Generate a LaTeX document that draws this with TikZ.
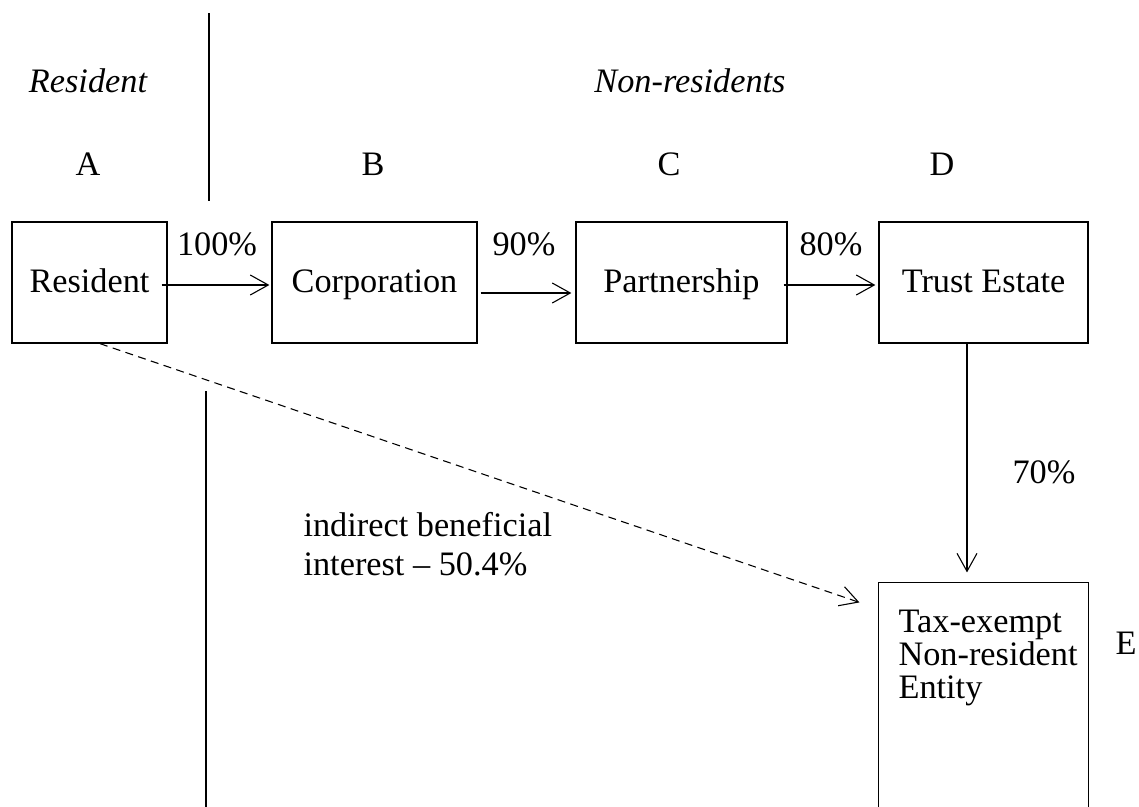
\documentclass[tikz,border=0pt]{standalone}
\usepackage{fontspec}
\setmainfont{Liberation Serif}
\usetikzlibrary{arrows.meta}
\begin{document}
\begin{tikzpicture}[x=0.35pt,y=-0.35pt,
  txt/.style={font=\fontsize{12}{13.7}\selectfont},
  box/.style={draw, line width=0.45pt, inner sep=0pt, txt, text height=9pt, text depth=1.8pt},
  lbl/.style={inner sep=0pt, txt},
  arr/.style={line width=0.38pt, -{Straight Barb[length=6.3pt,width=7pt,line width=0.38pt]}},
  sep/.style={line width=0.45pt},
  dsh/.style={arr, dash pattern=on 2.8pt off 1.9pt}]
\useasboundingbox (0,0) rectangle (1139,807);
% headers
\node[lbl, font=\fontsize{12}{13.7}\selectfont\itshape, anchor=base] (hres) at (88,93) {Resident};
\node[lbl, font=\fontsize{12}{13.7}\selectfont\itshape, anchor=base] (hnon) at (690,93) {Non-residents};
\node[lbl, anchor=base] (la) at (88,175) {A};
\node[lbl, anchor=base] (lb) at (373,175) {B};
\node[lbl, anchor=base] (lc) at (669,175) {C};
\node[lbl, anchor=base] (ld) at (942,175) {D};
\node[lbl, anchor=base west] (le) at (1115,654) {E};
% separator lines
\coordinate (s1a) at (209,13);
\coordinate (s1b) at (209,201);
\coordinate (s2a) at (206,391);
\coordinate (s2b) at (206,807);
\draw[sep] (s1a) -- (s1b);
\draw[sep] (s2a) -- (s2b);
% boxes
\node[box, minimum width=54.25pt, minimum height=42.35pt] (res) at (89.5,282.5) {Resident};
\node[box, minimum width=71.75pt, minimum height=42.35pt] (corp) at (374.5,282.5) {Corporation};
\node[box, minimum width=73.85pt, minimum height=42.35pt] (part) at (681.5,282.5) {Partnership};
\node[box, minimum width=73.15pt, minimum height=42.35pt] (trust) at (983.5,282.5) {Trust Estate};
\node[inner sep=0pt, minimum width=73.15pt, minimum height=78.4pt] (ent) at (983.5,695) {};
\draw[line width=0.45pt] (ent.south west) |- (ent.north east) -- (ent.south east);
\node[lbl, anchor=north west, align=left, font=\fontsize{12}{11.6}\selectfont] (enttxt) at (898,609.5) {Tax-exempt\\Non-resident\\Entity};
% percentages
\node[lbl, anchor=base] (p100) at (217,255) {100\%};
\node[lbl, anchor=base] (p90) at (524,255) {90\%};
\node[lbl, anchor=base] (p80) at (831,255) {80\%};
\node[lbl, anchor=base west] (p70) at (1012,483) {70\%};
\node[lbl, anchor=north west, align=left] (ind) at (303,511.6) {indirect beneficial\\interest – 50.4\%};
% arrows
\draw[arr] ([shift={(-6,2.5)}]res.east) -- ([shift={(-2,2.5)}]corp.west);
\draw[arr] ([shift={(3,10.5)}]corp.east) -- ([shift={(-4,10.5)}]part.west);
\draw[arr] ([shift={(-4,2.5)}]part.east) -- ([shift={(-3,2.5)}]trust.west);
\draw[arr] ([shift={(-16.5,-1)}]trust.south) -- ([shift={(-16.5,-10)}]ent.north);
\draw[dsh] ([shift={(10.5,0)}]res.south) -- ([shift={(-19,20)}]ent.north west);
\end{tikzpicture}
\end{document}
